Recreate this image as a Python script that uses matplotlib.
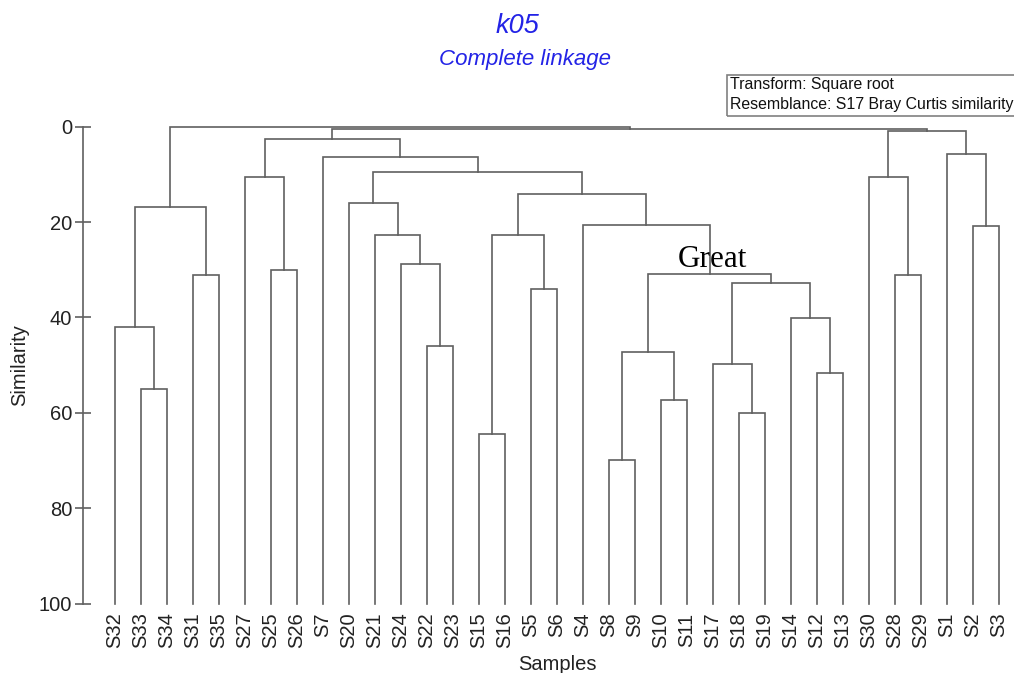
import matplotlib
matplotlib.use("Agg")
import matplotlib.pyplot as plt
from matplotlib.patches import Rectangle

# ---------------- data ----------------
leaves = ["S32", "S33", "S34", "S31", "S35", "S27", "S25", "S26", "S7", "S20",
          "S21", "S24", "S22", "S23", "S15", "S16", "S5", "S6", "S4", "S8",
          "S9", "S10", "S11", "S17", "S18", "S19", "S14", "S12", "S13", "S30",
          "S28", "S29", "S1", "S2", "S3"]

# merges: (left member, right member, similarity); clusters named c0, c1, ...
merge_left = ["S33", "S32", "S31", "c1", "S25", "S27", "S22", "S24", "S21", "S20",
              "S15", "S5", "c10", "S8", "S10", "c13", "S18", "S17", "S12", "S14",
              "c17", "c15", "S4", "c12", "c9", "S7", "c5", "S28", "S30", "S2",
              "S1", "c28", "c26", "c3"]
merge_right = ["S34", "c0", "S35", "c2", "S26", "c4", "S23", "c6", "c7", "c8",
               "S16", "S6", "c11", "S9", "S11", "c14", "S19", "c16", "S13", "c18",
               "c19", "c20", "c21", "c22", "c23", "c24", "c25", "S29", "c27", "S3",
               "c29", "c30", "c31", "c32"]
merge_height = [55.1, 42.1, 31.2, 16.9, 30.1, 10.6, 46.0, 28.9, 22.8, 15.9,
                64.4, 34.0, 22.8, 70.0, 57.3, 47.2, 60.0, 49.7, 51.6, 40.2,
                32.8, 30.8, 20.7, 14.1, 9.4, 6.3, 2.6, 31.2, 10.6, 20.9,
                5.7, 0.85, 0.5, 0.0]

yticks = [0, 20, 40, 60, 80, 100]
leaf_level = 100

title1 = "k05"
title2 = "Complete linkage"
legend_lines = ["Transform: Square root", "Resemblance: S17 Bray Curtis similarity"]
annotation = "Great"

# ---------------- figure ----------------
W, H = 1014, 673
fig = plt.figure(figsize=(W / 100, H / 100), dpi=100)
plt.rcParams['font.family'] = ['Liberation Sans', 'DejaVu Sans']

def fx(px):
    return px / W

def fy(py):
    return 1 - py / H

ax_left, ax_right = 83, 1014
ax_top, ax_bottom = 126.7, 603.5
ax = fig.add_axes([fx(ax_left), fy(ax_bottom), (ax_right - ax_left) / W, (ax_bottom - ax_top) / H])

leaf_x0, leaf_dx = 115, 26.0
ax.set_xlim((ax_left - leaf_x0) / leaf_dx, (ax_right - leaf_x0) / leaf_dx)
ax.set_ylim(100, 0)

line_col = "#606060"
lw = 1.2

pos = {name: (i, leaf_level) for i, name in enumerate(leaves)}
for k, (a, b, h) in enumerate(zip(merge_left, merge_right, merge_height)):
    xa, ya = pos[a]
    xb, yb = pos[b]
    ax.plot([xa, xa, xb, xb], [ya, h, h, yb], color=line_col, lw=lw,
            solid_joinstyle="miter", clip_on=False)
    pos["c%d" % k] = ((xa + xb) / 2, h)

for s in ["top", "right", "bottom"]:
    ax.spines[s].set_visible(False)
ax.spines["left"].set_color(line_col)
ax.spines["left"].set_linewidth(lw)

ax.set_yticks(yticks)
ax.set_yticklabels([str(t) for t in yticks], fontsize=14.5, color="#222222")
ax.tick_params(axis="y", direction="inout", length=11.5, width=lw, color=line_col, pad=2)

ax.set_xticks(range(len(leaves)))
ax.set_xticklabels(leaves, rotation=90, fontsize=14.5, color="#222222")
ax.tick_params(axis="x", length=0, pad=6.5)

fig.text(fx(19.5), fy(365), "Similarity", rotation=90, fontsize=14.5,
         ha="center", va="center", color="#222222")
fig.text(fx(557), fy(665), "Samples", fontsize=14.5, ha="center", va="center", color="#222222")

blue = "#2323e6"
fig.text(fx(517), fy(26), title1, fontsize=19.5, style="italic", color=blue,
         ha="center", va="center")
fig.text(fx(525), fy(59), title2, fontsize=16, style="italic", color=blue,
         ha="center", va="center")

# legend box
fig.patches.append(Rectangle((fx(727), fy(116)), fx(1030) - fx(727), fy(75) - fy(116),
                             transform=fig.transFigure, fill=False,
                             edgecolor="#808080", lw=1.2))
fig.text(fx(730), fy(85), legend_lines[0], fontsize=11.4, ha="left", va="center", color="#111111")
fig.text(fx(730), fy(104), legend_lines[1], fontsize=11.4, ha="left", va="center", color="#111111")

fig.text(fx(678), fy(267), annotation, fontsize=22.5, family="Liberation Serif",
         ha="left", va="baseline", color="black")

fig.savefig("out.png", dpi=100)
